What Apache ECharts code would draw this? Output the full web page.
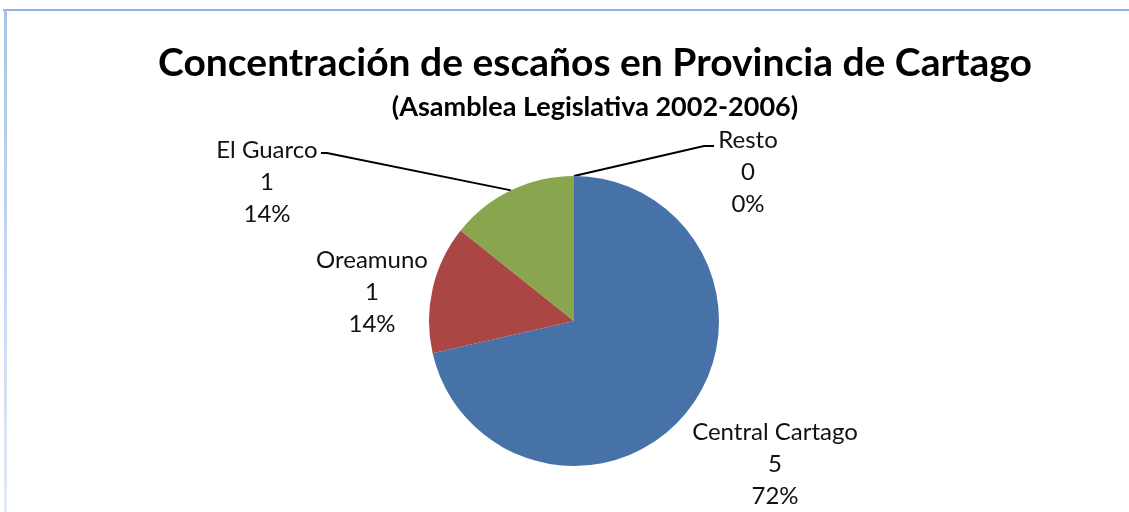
<!DOCTYPE html>
<html>
<head>
<meta charset="utf-8">
<script src="https://cdn.jsdelivr.net/npm/echarts@6/dist/echarts.min.js"></script>
<style>
  html, body { margin: 0; padding: 0; background: #fff; }
  #chart { width: 1129px; height: 512px; }
</style>
</head>
<body>
<div id="chart"></div>
<script>
// datos: escaños por cantón
var categories = ['Central Cartago', 'Oreamuno', 'El Guarco', 'Resto'];
var seats = [5, 1, 1, 0];
var colors = ['#4672a8', '#aa4644', '#89a54e', '#7d60a0'];

// posición de cada etiqueta (centro del bloque de texto)
var labelPos = {
    'Central Cartago': { x: 775, y: 464 },
    'Oreamuno': { x: 372, y: 292 },
    'El Guarco': { x: 267, y: 182 },
    'Resto': { x: 748, y: 172 }
};
// codo de las líneas guía
var labelElbow = {
    'El Guarco': [[327, 153], [321, 153]],
    'Resto': [[704, 146], [714, 146]]
};

window.onload = start_pie;
function start_pie() {
    var myChart = echarts.init(document.getElementById('chart'));
    var font = 'Lato, "Open Sans", sans-serif';

    var pieData = [];
    for (var i = 0; i < categories.length; i++) {
        pieData.push({
            name: categories[i],
            value: seats[i],
            itemStyle: { color: colors[i] },
            labelLine: { show: !!labelElbow[categories[i]] }
        });
    }

    var option = {
        backgroundColor: '#ffffff',
        animation: false,
        title: {
            text: 'Concentración de escaños en Provincia de Cartago',
            subtext: '(Asamblea Legislativa 2002-2006)',
            left: 590,
            textAlign: 'center',
            top: 35,
            itemGap: 6,
            textStyle: {
                fontFamily: font,
                fontWeight: 'bold',
                fontSize: 39,
                lineHeight: 46,
                color: '#000'
            },
            subtextStyle: {
                fontFamily: font,
                fontWeight: 'bold',
                fontSize: 27,
                lineHeight: 30,
                color: '#000'
            }
        },
        graphic: [
            {
                type: 'rect',
                shape: { x: 3, y: 9, width: 1126, height: 2 },
                style: { fill: '#8eb4e3' },
                silent: true
            },
            {
                type: 'rect',
                shape: { x: 4, y: 10, width: 3, height: 502 },
                style: {
                    fill: new echarts.graphic.LinearGradient(0, 0, 0, 1, [
                        { offset: 0, color: '#a9c4e8' },
                        { offset: 1, color: '#e2eaf6' }
                    ])
                },
                silent: true
            }
        ],
        series: [{
            type: 'pie',
            center: [574, 321],
            radius: 145,
            startAngle: 90,
            clockwise: true,
            percentPrecision: 0,
            avoidLabelOverlap: false,
            itemStyle: { borderWidth: 0 },
            label: {
                show: true,
                formatter: '{b}\n{c}\n{d}%',
                fontFamily: font,
                fontSize: 24,
                lineHeight: 32,
                color: '#111',
                align: 'center'
            },
            labelLine: {
                show: true,
                lineStyle: { color: '#000', width: 2 }
            },
            labelLayout: function (params) {
                var name = categories[params.dataIndex];
                var p = labelPos[name];
                var out = { x: p.x, y: p.y, align: 'center', verticalAlign: 'middle' };
                var elbow = labelElbow[name];
                if (elbow && params.labelLinePoints) {
                    out.labelLinePoints = [params.labelLinePoints[0], elbow[0], elbow[1]];
                }
                return out;
            },
            emphasis: { disabled: true },
            data: pieData
        }]
    };

    myChart.setOption(option);
}
</script>
</body>
</html>
